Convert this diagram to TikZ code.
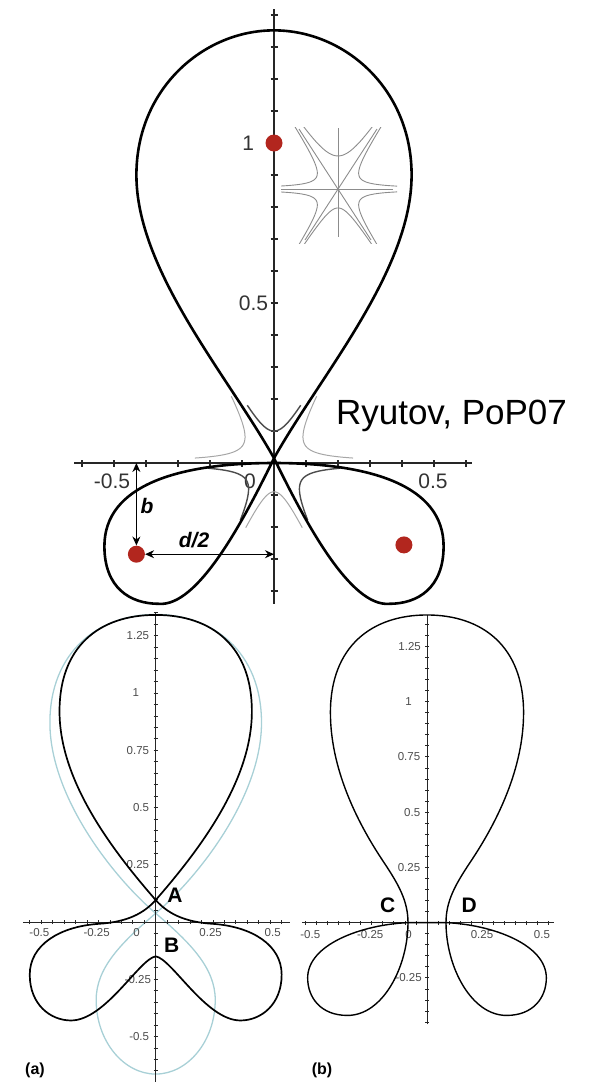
\documentclass[tikz,border=0pt]{standalone}
\usepackage{fontspec}
\setmainfont{Liberation Sans}
\usetikzlibrary{arrows.meta}
\definecolor{coilred}{RGB}{178,38,30}
\definecolor{oldsep}{RGB}{168,208,214}
% hyperbola-like flux line between two asymptote directions
\newcommand{\sectorcurve}[5][insetline]{%
  \draw[#1] plot[domain=-#5:#5, samples=41, variable=\t]
    ({#4*(exp(\t)*cos(#2)+exp(-\t)*cos(#3))},{#4*(exp(\t)*sin(#2)+exp(-\t)*sin(#3))});}

\begin{document}
\begin{tikzpicture}[x=1pt, y=-1pt,
  sepline/.style={line width=2.6pt, line join=round},
  thinsep/.style={line width=1.7pt, line join=round},
  oldline/.style={line width=1.3pt, draw=oldsep},
  axisline/.style={line width=1.1pt, draw=black!85},
  nearline/.style={line width=1.4pt, draw=black!70},
  faintline/.style={line width=1pt, draw=black!35},
  insetline/.style={line width=0.9pt, draw=black!45},
  coil/.style={circle, fill=coilred, minimum size=17pt, inner sep=0pt},
  dimarrow/.style={<->, >={Stealth[length=9pt,width=8pt]}, line width=1.1pt},
  biglbl/.style={font=\fontsize{21}{21}\selectfont, text=black!80, inner sep=0pt},
  smalllbl/.style={font=\fontsize{11.5}{12}\selectfont, text=black!70, inner sep=0pt},
  ptlbl/.style={font=\fontsize{21}{21}\selectfont\bfseries, inner sep=0pt},
  dimlbl/.style={font=\fontsize{21}{21}\selectfont\bfseries\itshape, inner sep=0pt},
]
\useasboundingbox (0,0) rectangle (597,1082);

% ---------------- top panel: snowflake separatrix
\begin{scope}[shift={(274pt,-463pt)}, x=320pt, y=320pt]
  \draw[axisline] (-0.625,0) -- (0.62,0);
  \draw[axisline] (0,-0.44) -- (0,1.42);
  \foreach \k in {-6,...,-1,1,2,...,6}
    \draw[axisline] (\k/10,0) ++(0,-3.5pt) -- ++(0,7pt);
  \foreach \k in {-4,...,-1,1,2,...,14}
    \draw[axisline] (0,\k/10) ++(-3.5pt,0) -- ++(7pt,0);

  \node[biglbl, anchor=east] (lblone) at (-0.062,1) {1};
  \node[biglbl, anchor=east] (lblhalf) at (-0.018,0.5) {0.5};
  \node[biglbl] (lblxm) at (-0.506,-0.056) {-0.5};
  \node[biglbl] (lblxz) at (-0.075,-0.056) {0};
  \node[biglbl] (lblxp) at (0.497,-0.056) {0.5};

  % nearby flux surfaces
  \sectorcurve[nearline]{61}{119}{0.057}{1.2}
  \sectorcurve[faintline]{0}{61}{0.065}{1.3}
  \sectorcurve[faintline]{119}{180}{0.065}{1.3}
  \sectorcurve[faintline]{244}{296}{0.05}{1.45}
  \sectorcurve[nearline]{180}{244}{0.06}{1.2}
  \sectorcurve[nearline]{296}{360}{0.06}{1.2}

  % separatrix: main lobe
  \draw[sepline] (0,0.015) .. controls (-0.144,0.273) and (-0.43,0.6) .. (-0.43,0.9)
    .. controls (-0.43,1.17) and (-0.22,1.352) .. (0,1.352)
    .. controls (0.22,1.352) and (0.43,1.17) .. (0.43,0.9)
    .. controls (0.43,0.6) and (0.144,0.273) .. (0,0.015);
  % separatrix: side lobes
  \draw[sepline] (0,0.015) .. controls (-0.1,-0.19) and (-0.24,-0.45) .. (-0.36,-0.44)
    .. controls (-0.45,-0.44) and (-0.53,-0.39) .. (-0.53,-0.26)
    .. controls (-0.53,-0.07) and (-0.3,0) .. (0,0)
    .. controls (0.3,0) and (0.53,-0.07) .. (0.53,-0.26)
    .. controls (0.53,-0.39) and (0.45,-0.44) .. (0.36,-0.44)
    .. controls (0.24,-0.45) and (0.1,-0.19) .. (0,0.015);

  % currents
  \node[coil] (coilP) at (0,1) {};
  \node[coil] (coilL) at (-0.43,-0.285) {};
  \node[coil] (coilR) at (0.406,-0.256) {};

  \coordinate (bTop) at (-0.43,0);
  \coordinate (dEnd) at (0,-0.285);
  \draw[dimarrow] (bTop) -- (coilL.north);
  \draw[dimarrow] (coilL.east) -- (dEnd);
  \node[dimlbl] (lblb) at (-0.397,-0.134) {b};
  \node[dimlbl] (lbld) at (-0.25,-0.24) {d/2};
\end{scope}

% inset: snowflake null
\begin{scope}[shift={(338pt,-189pt)}, x=1pt, y=1pt]
  \clip (-57,-54) rectangle (59,62);
  \draw[insetline] (-57,0) -- (55,0);
  \draw[insetline] (0,61) -- (0,-48);
  \draw[insetline] (-39,60) -- (33,-51);
  \draw[insetline] (39,60) -- (-33,-51);
  \sectorcurve{57}{123}{19.7}{1.3}
  \sectorcurve{237}{303}{11.3}{1.9}
  \sectorcurve{0}{57}{14}{1.7}
  \sectorcurve{123}{180}{14}{1.7}
  \sectorcurve{180}{237}{14}{1.7}
  \sectorcurve{303}{360}{14}{1.7}
\end{scope}

\node[font=\fontsize{35}{35}\selectfont, inner sep=0pt] (credit) at (451.5,416) {Ryutov, PoP07};

% ---------------- panel (a)
\begin{scope}[shift={(155.7pt,-922pt)}, x=229pt, y=229pt]
  \draw[oldline] (0,0.038) .. controls (-0.19,0.2) and (-0.462,0.55) .. (-0.462,0.87)
    .. controls (-0.462,1.18) and (-0.25,1.343) .. (0,1.343)
    .. controls (0.25,1.343) and (0.462,1.18) .. (0.462,0.87)
    .. controls (0.462,0.55) and (0.19,0.2) .. (0,0.038)
    .. controls (-0.15,-0.09) and (-0.26,-0.2) .. (-0.26,-0.34)
    .. controls (-0.26,-0.52) and (-0.14,-0.664) .. (0,-0.664)
    .. controls (0.14,-0.664) and (0.26,-0.52) .. (0.26,-0.34)
    .. controls (0.26,-0.2) and (0.15,-0.09) .. (0,0.038);

  \draw[axisline, line width=1pt] (-0.58,0) -- (0.587,0);
  \draw[axisline, line width=1pt] (0,-0.7) -- (0,1.354);
  \foreach \k in {-11,...,-1,1,2,...,11}
    \draw[axisline, line width=0.8pt] (\k/20,0) ++(0,-2pt) -- ++(0,4pt);
  \foreach \k in {-13,...,-1,1,2,...,27}
    \draw[axisline, line width=0.8pt] (0,\k/20) ++(-2pt,0) -- ++(4pt,0);

  \node[smalllbl, anchor=east] (aY1) at (-0.028,1.25) {1.25};
  \node[smalllbl, anchor=east] (aY2) at (-0.072,1) {1};
  \node[smalllbl, anchor=east] (aY3) at (-0.028,0.75) {0.75};
  \node[smalllbl, anchor=east] (aY4) at (-0.028,0.5) {0.5};
  \node[smalllbl, anchor=east] (aY5) at (-0.028,0.25) {0.25};
  \node[smalllbl, anchor=east] (aY6) at (-0.02,-0.25) {-0.25};
  \node[smalllbl, anchor=east] (aY7) at (-0.028,-0.5) {-0.5};
  \node[smalllbl] (aX1) at (-0.508,-0.048) {-0.5};
  \node[smalllbl] (aX2) at (-0.258,-0.048) {-0.25};
  \node[smalllbl] (aX3) at (-0.083,-0.048) {0};
  \node[smalllbl] (aX4) at (0.24,-0.048) {0.25};
  \node[smalllbl] (aX5) at (0.511,-0.048) {0.5};

  \draw[thinsep] (0,0.096) .. controls (-0.197,0.322) and (-0.42,0.62) .. (-0.42,0.92)
    .. controls (-0.42,1.2) and (-0.25,1.341) .. (0,1.341)
    .. controls (0.25,1.341) and (0.42,1.2) .. (0.42,0.92)
    .. controls (0.42,0.62) and (0.197,0.322) .. (0,0.096)
    .. controls (-0.05,0.04) and (-0.12,0) .. (-0.25,-0.008)
    .. controls (-0.42,-0.02) and (-0.55,-0.1) .. (-0.55,-0.23)
    .. controls (-0.55,-0.36) and (-0.46,-0.43) .. (-0.37,-0.43)
    .. controls (-0.22,-0.43) and (-0.07,-0.16) .. (0,-0.15)
    .. controls (0.07,-0.16) and (0.22,-0.43) .. (0.37,-0.43)
    .. controls (0.46,-0.43) and (0.55,-0.36) .. (0.55,-0.23)
    .. controls (0.55,-0.1) and (0.42,-0.02) .. (0.25,-0.008)
    .. controls (0.12,0) and (0.05,0.04) .. (0,0.096);

  \node[ptlbl] (ptA) at (0.084,0.118) {A};
  \node[ptlbl] (ptB) at (0.07,-0.1) {B};
\end{scope}

% ---------------- panel (b)
\begin{scope}[shift={(427pt,-922.6pt)}, x=221pt, y=221pt]
  \draw[axisline, line width=1pt] (-0.566,0) -- (0.575,0);
  \draw[axisline, line width=1pt] (0,-0.46) -- (0,1.39);
  \foreach \k in {-11,...,-1,1,2,...,11}
    \draw[axisline, line width=0.8pt] (\k/20,0) ++(0,-2pt) -- ++(0,4pt);
  \foreach \k in {-9,...,-1,1,2,...,27}
    \draw[axisline, line width=0.8pt] (0,\k/20) ++(-2pt,0) -- ++(4pt,0);

  \node[smalllbl, anchor=east] (bY1) at (-0.027,1.25) {1.25};
  \node[smalllbl, anchor=east] (bY2) at (-0.068,1) {1};
  \node[smalllbl, anchor=east] (bY3) at (-0.03,0.75) {0.75};
  \node[smalllbl, anchor=east] (bY4) at (-0.03,0.5) {0.5};
  \node[smalllbl, anchor=east] (bY5) at (-0.03,0.25) {0.25};
  \node[smalllbl, anchor=east] (bY6) at (-0.023,-0.25) {-0.25};
  \node[smalllbl] (bX1) at (-0.528,-0.056) {-0.5};
  \node[smalllbl] (bX2) at (-0.257,-0.056) {-0.25};
  \node[smalllbl] (bX3) at (-0.083,-0.056) {0};
  \node[smalllbl] (bX4) at (0.249,-0.056) {0.25};
  \node[smalllbl] (bX5) at (0.52,-0.056) {0.5};

  \draw[thinsep, line width=1.4pt] (-0.086,0) .. controls (-0.086,-0.2) and (-0.2,-0.42) .. (-0.36,-0.42)
    .. controls (-0.48,-0.42) and (-0.54,-0.34) .. (-0.54,-0.25)
    .. controls (-0.54,-0.1) and (-0.3,-0.01) .. (-0.086,0)
    -- (0.086,0)
    .. controls (0.3,-0.01) and (0.54,-0.1) .. (0.54,-0.25)
    .. controls (0.54,-0.34) and (0.48,-0.42) .. (0.36,-0.42)
    .. controls (0.2,-0.42) and (0.086,-0.2) .. (0.086,0)
    .. controls (0.086,0.1) and (0.13,0.175) .. (0.2,0.28)
    .. controls (0.32,0.46) and (0.437,0.7) .. (0.437,0.95)
    .. controls (0.437,1.25) and (0.25,1.392) .. (0,1.392)
    .. controls (-0.25,1.392) and (-0.437,1.25) .. (-0.437,0.95)
    .. controls (-0.437,0.7) and (-0.32,0.46) .. (-0.2,0.28)
    .. controls (-0.13,0.175) and (-0.086,0.1) .. (-0.086,0);

  \node[ptlbl] (ptC) at (-0.178,0.08) {C};
  \node[ptlbl] (ptD) at (0.191,0.08) {D};
\end{scope}

\node[font=\fontsize{16}{16}\selectfont\bfseries, inner sep=0pt] (tagA) at (35,1070) {(a)};
\node[font=\fontsize{16}{16}\selectfont\bfseries, inner sep=0pt] (tagB) at (322,1070) {(b)};
\end{tikzpicture}
\end{document}
